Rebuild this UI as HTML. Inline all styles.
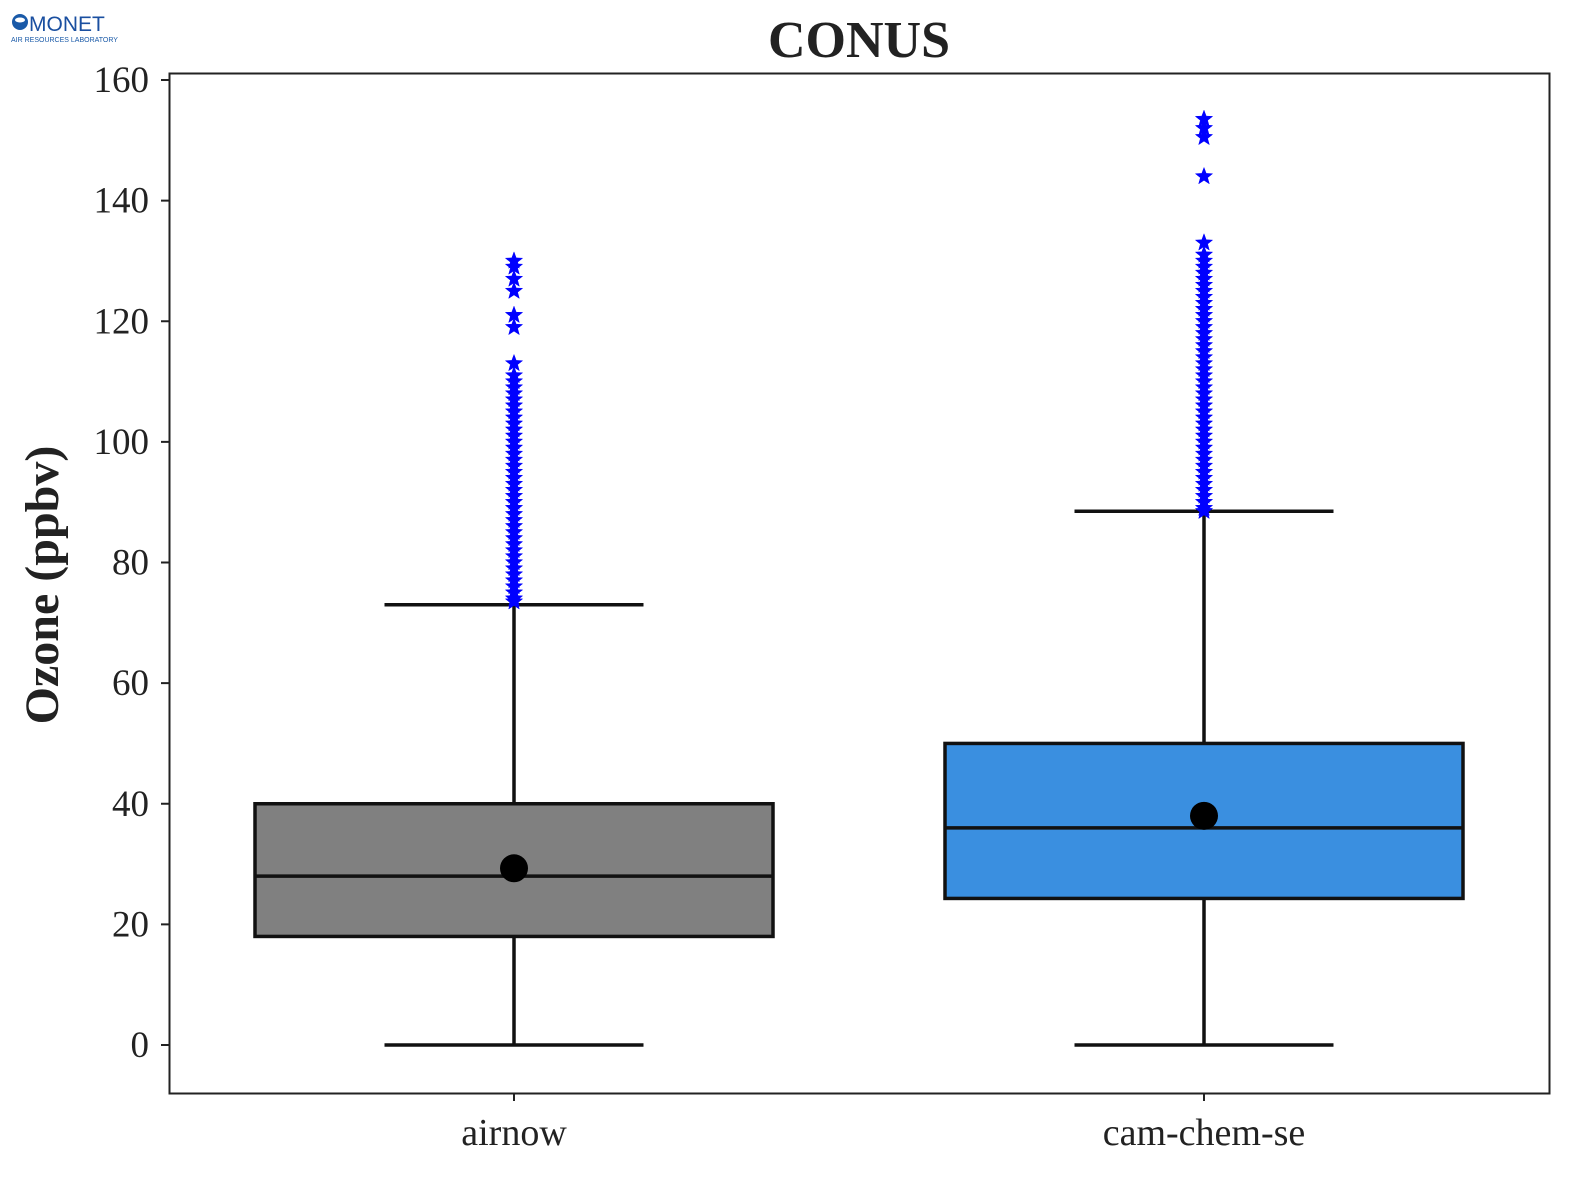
<!DOCTYPE html>
<html><head><meta charset="utf-8"><style>
html,body{margin:0;background:#fff;overflow:hidden;}
svg{display:block;}
svg text{font-family:"Liberation Serif",serif;fill:#222;}
</style></head><body>
<svg id="chart" width="1579" height="1184" viewBox="0 0 1579 1184">
<g>
<circle cx="20" cy="22" r="8" fill="#1a5aa8"/>
<ellipse cx="20" cy="20" rx="5" ry="2.5" fill="#fff"/>
<text x="29" y="31" style="fill:#1a4fa0;font-family:'Liberation Sans',sans-serif;font-size:21px">MONET</text>
<text x="11" y="42" style="fill:#1a5aa8;font-family:'Liberation Sans',sans-serif;font-size:7px">AIR RESOURCES LABORATORY</text>
</g>
<text x="859" y="57" text-anchor="middle" font-size="52" font-weight="bold">CONUS</text>
<text transform="translate(58,585) rotate(-90)" text-anchor="middle" font-size="48" font-weight="bold">Ozone (ppbv)</text>
<g id="plot"></g>
<rect x="169.5" y="73.5" width="1380" height="1020" fill="none" stroke="#222" stroke-width="2"/>
</svg>
<script>
const categories=["airnow","cam-chem-se"];
const colors=["#808080","#3a8fe0"];
const q1=[18,24.3];
const median=[28,36];
const q3=[40,50];
const mean=[29.3,38];
const whiskerLow=[0,0];
const whiskerHigh=[73,88.5];
const outliersAirnow=[73.5,74,75,76,77,78,79,80,81,82,83,84,85,86,87,88,89,90,91,92,93,94,95,96,97,98,99,100,101,102,103,104,105,106,107,108,109,110,111,113,119,121,125,127,129,130];
const outliersCam=[88.5,89,90,91,92,93,94,95,96,97,98,99,100,101,102,103,104,105,106,107,108,109,110,111,112,113,114,115,116,117,118,119,120,121,122,123,124,125,126,127,128,129,130,131,133,144,150.5,152,153.5];
const outliers=[outliersAirnow,outliersCam];
const yTicks=[0,20,40,60,80,100,120,140,160];

const NS="http://www.w3.org/2000/svg";
const g=document.getElementById('plot');
const svg=document.getElementById('chart');
function y(v){return 1045-v*(965/160);}
function x(i){return 514+i*690;}
const BW=518, CW=259;
function mk(tag,attrs,parent){const e=document.createElementNS(NS,tag);for(const k in attrs)e.setAttribute(k,attrs[k]);(parent||g).appendChild(e);return e;}

yTicks.forEach(t=>{
  const l=mk('line',{x1:161,x2:169,y1:y(t),y2:y(t),stroke:'#222','stroke-width':2},svg);
  
  
  const tx=mk('text',{x:149,y:y(t)+12,'text-anchor':'end','font-size':37},svg);
  tx.textContent=t;
  
  
});
function star(cx,cy,r){let p=[];for(let k=0;k<10;k++){const a=-Math.PI/2+k*Math.PI/5;const rr=k%2?r*0.42:r;p.push((cx+rr*Math.cos(a)).toFixed(1)+','+(cy+rr*Math.sin(a)).toFixed(1));}return p.join(' ');}
categories.forEach((c,i)=>{
  const cx=x(i);
  const bg=mk('g',{});
  
  
  const a={stroke:'#111','stroke-width':3.5,fill:'none'};
  mk('line',Object.assign({x1:cx,x2:cx,y1:y(whiskerLow[i]),y2:y(q1[i])},a),bg);
  mk('line',Object.assign({x1:cx,x2:cx,y1:y(q3[i]),y2:y(whiskerHigh[i])},a),bg);
  mk('line',Object.assign({x1:cx-CW/2,x2:cx+CW/2,y1:y(whiskerLow[i]),y2:y(whiskerLow[i])},a),bg);
  mk('line',Object.assign({x1:cx-CW/2,x2:cx+CW/2,y1:y(whiskerHigh[i]),y2:y(whiskerHigh[i])},a),bg);
  outliers[i].forEach(v=>{
    const s=mk('polygon',{points:star(cx,y(v),9),fill:'#0000ff',stroke:'#0000ff','stroke-width':0.5},bg);
    
    
  });
  mk('rect',{x:cx-BW/2,y:y(q3[i]),width:BW,height:y(q1[i])-y(q3[i]),fill:colors[i],stroke:'#111','stroke-width':3.5},bg);
  mk('line',Object.assign({x1:cx-BW/2,x2:cx+BW/2,y1:y(median[i]),y2:y(median[i])},a),bg);
  const m=mk('circle',{cx:cx,cy:y(mean[i]),r:14,fill:'#000'},bg);
  
  
  const t=mk('line',{x1:cx,x2:cx,y1:1093,y2:1101,stroke:'#222','stroke-width':2},svg);
  
  
  const l=mk('text',{x:cx,y:1145,'text-anchor':'middle','font-size':38},svg);
  l.textContent=c;
  
  
});
</script>
</body></html>
